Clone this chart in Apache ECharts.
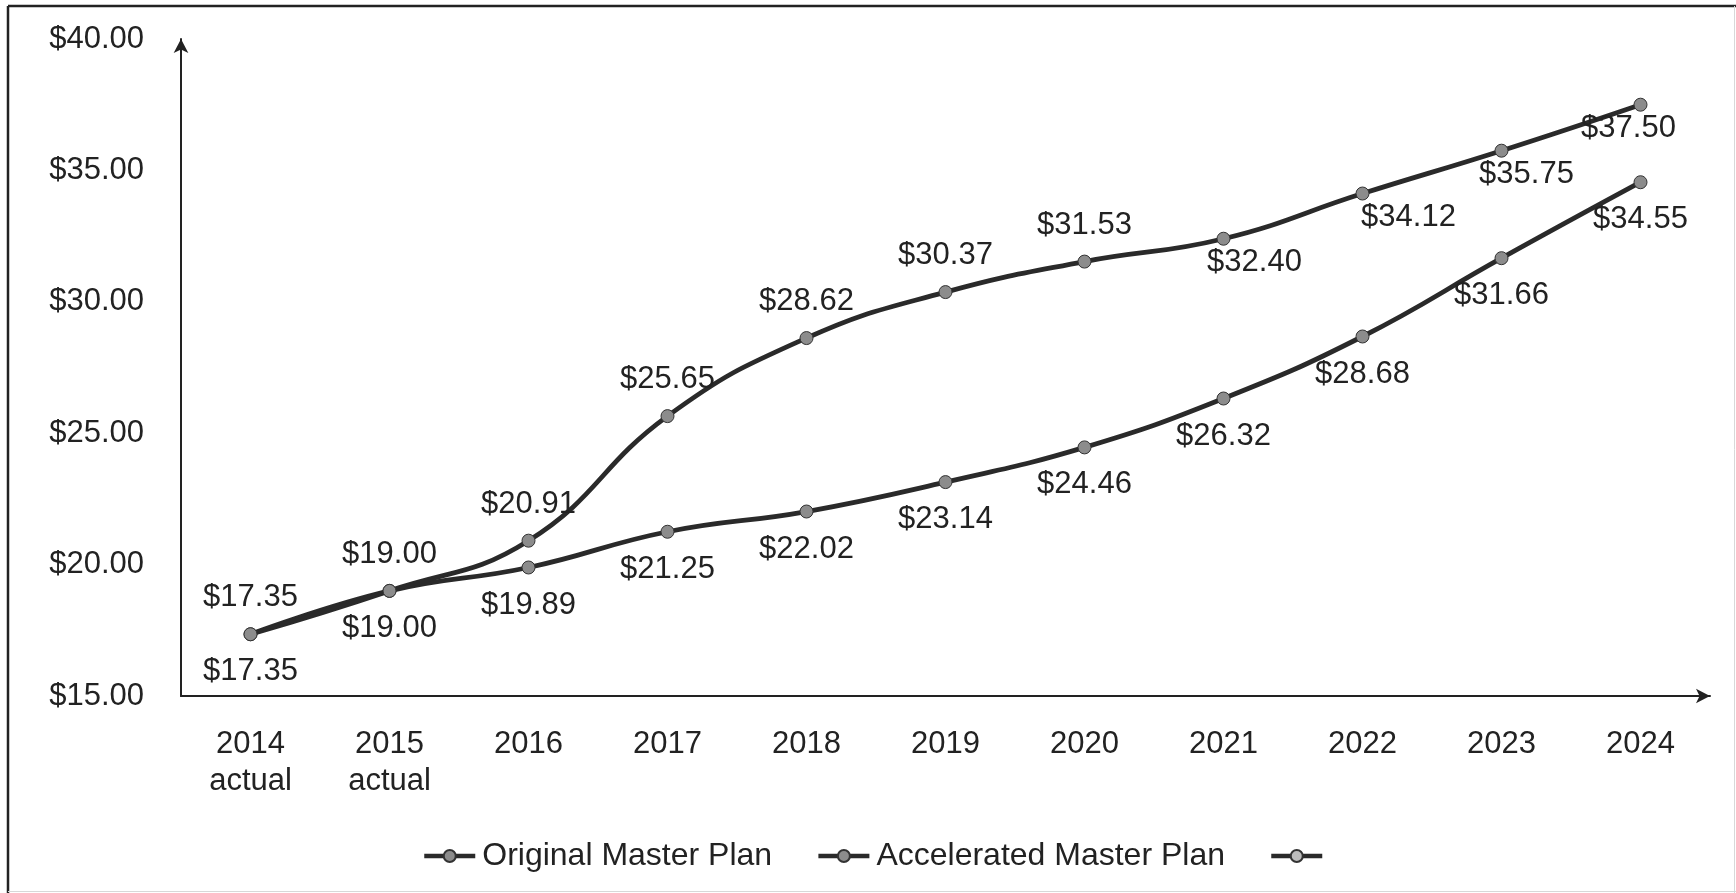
<!DOCTYPE html>
<html>
<head>
<meta charset="utf-8">
<script src="https://cdn.jsdelivr.net/npm/echarts@6/dist/echarts.min.js"></script>
<style>
  html, body { margin: 0; padding: 0; background: #fff; }
  #chart { width: 1736px; height: 893px; }
</style>
</head>
<body>
<div id="chart"></div>
<script>
// ---- data ----
const categories = ['2014\nactual', '2015\nactual', '2016', '2017', '2018', '2019', '2020', '2021', '2022', '2023', '2024'];
const originalPlan = [17.35, 19.00, 19.89, 21.25, 22.02, 23.14, 24.46, 26.32, 28.68, 31.66, 34.55];
const acceleratedPlan = [17.35, 19.00, 20.91, 25.65, 28.62, 30.37, 31.53, 32.40, 34.12, 35.75, 37.50];
const seriesNames = ['Original Master Plan', 'Accelerated Master Plan', ' '];
const yTicks = { min: 15, max: 40, interval: 5 };

// ---- styling ----
const FONT = 'Liberation Sans, Arial, sans-serif';
const INK = '#222';
const LINE = '#2a2a2a';
const MARK = '#8c8c8c';
const fmt = v => '$' + Number(v).toFixed(2);
const accelFlipFrom = 7;                 // labels placed below the line from this index on
const accelShiftX = [31, 46, 25, -12];   // horizontal nudges of those labels

const labelBase = {
  show: true, fontFamily: FONT, fontSize: 31, color: INK, lineHeight: 31,
  formatter: p => fmt(p.value)
};

const chart = echarts.init(document.getElementById('chart'), null, { renderer: 'canvas' });

const accelData = acceleratedPlan.map((v, i) => {
  if (i < accelFlipFrom) return v;
  return { value: v, label: { position: 'bottom', distance: 1, offset: [accelShiftX[i - accelFlipFrom], 0] } };
});

const lineSeries = (name, data, labelPos, dist, z) => ({
  name, type: 'line', data, smooth: 0.45, z,
  symbol: 'circle', symbolSize: 13,
  lineStyle: { color: LINE, width: 4.8 },
  itemStyle: { color: MARK, borderColor: '#333', borderWidth: 1 },
  label: Object.assign({}, labelBase, { position: labelPos, distance: dist }),
  emphasis: { disabled: true }
});

chart.setOption({
  animation: false,
  backgroundColor: '#fff',
  textStyle: { fontFamily: FONT },
  grid: { left: 181, right: 26, top: 39, bottom: 197, containLabel: false },
  xAxis: {
    type: 'category', data: categories, boundaryGap: true,
    axisLine: { show: true, lineStyle: { color: INK, width: 2 }, symbol: ['none', 'arrow'], symbolSize: [11, 14] },
    axisTick: { show: false },
    axisLabel: { fontFamily: FONT, fontSize: 31, color: INK, lineHeight: 37, margin: 30, interval: 0 },
    splitLine: { show: false }
  },
  yAxis: {
    type: 'value', min: yTicks.min, max: yTicks.max, interval: yTicks.interval,
    axisLine: { show: true, lineStyle: { color: INK, width: 2 }, symbol: ['none', 'arrow'], symbolSize: [11, 14] },
    axisTick: { show: false },
    axisLabel: { fontFamily: FONT, fontSize: 31, color: INK, margin: 37, formatter: v => fmt(v) },
    splitLine: { show: false }
  },
  legend: {
    data: seriesNames,
    left: 417, top: 835,
    itemWidth: 51, itemHeight: 15, itemGap: 44,
    lineStyle: { width: 4.5, color: LINE },
    textStyle: { fontFamily: FONT, fontSize: 32, color: INK, padding: [0, 0, 0, 2] },
    selectedMode: false
  },
  series: [
    lineSeries(seriesNames[0], originalPlan, 'bottom', 15, 2),
    lineSeries(seriesNames[1], accelData, 'top', 14, 3),
    {
      name: seriesNames[2], type: 'line', data: [], symbol: 'circle', symbolSize: 13,
      lineStyle: { color: LINE, width: 4.8 },
      itemStyle: { color: '#bdbdbd', borderColor: '#333', borderWidth: 1 }
    }
  ],
  graphic: [
    { type: 'line', shape: { x1: 8, y1: 6, x2: 8, y2: 893 }, style: { stroke: '#222', lineWidth: 2.5 }, silent: true },
    { type: 'line', shape: { x1: 8, y1: 6, x2: 1736, y2: 6 }, style: { stroke: '#222', lineWidth: 2.5 }, silent: true },
    { type: 'line', shape: { x1: 1734.5, y1: 6, x2: 1734.5, y2: 893 }, style: { stroke: '#d8d8d8', lineWidth: 1 }, silent: true },
    { type: 'line', shape: { x1: 8, y1: 891.5, x2: 1736, y2: 891.5 }, style: { stroke: '#d8d8d8', lineWidth: 1 }, silent: true }
  ]
});
</script>
</body>
</html>
